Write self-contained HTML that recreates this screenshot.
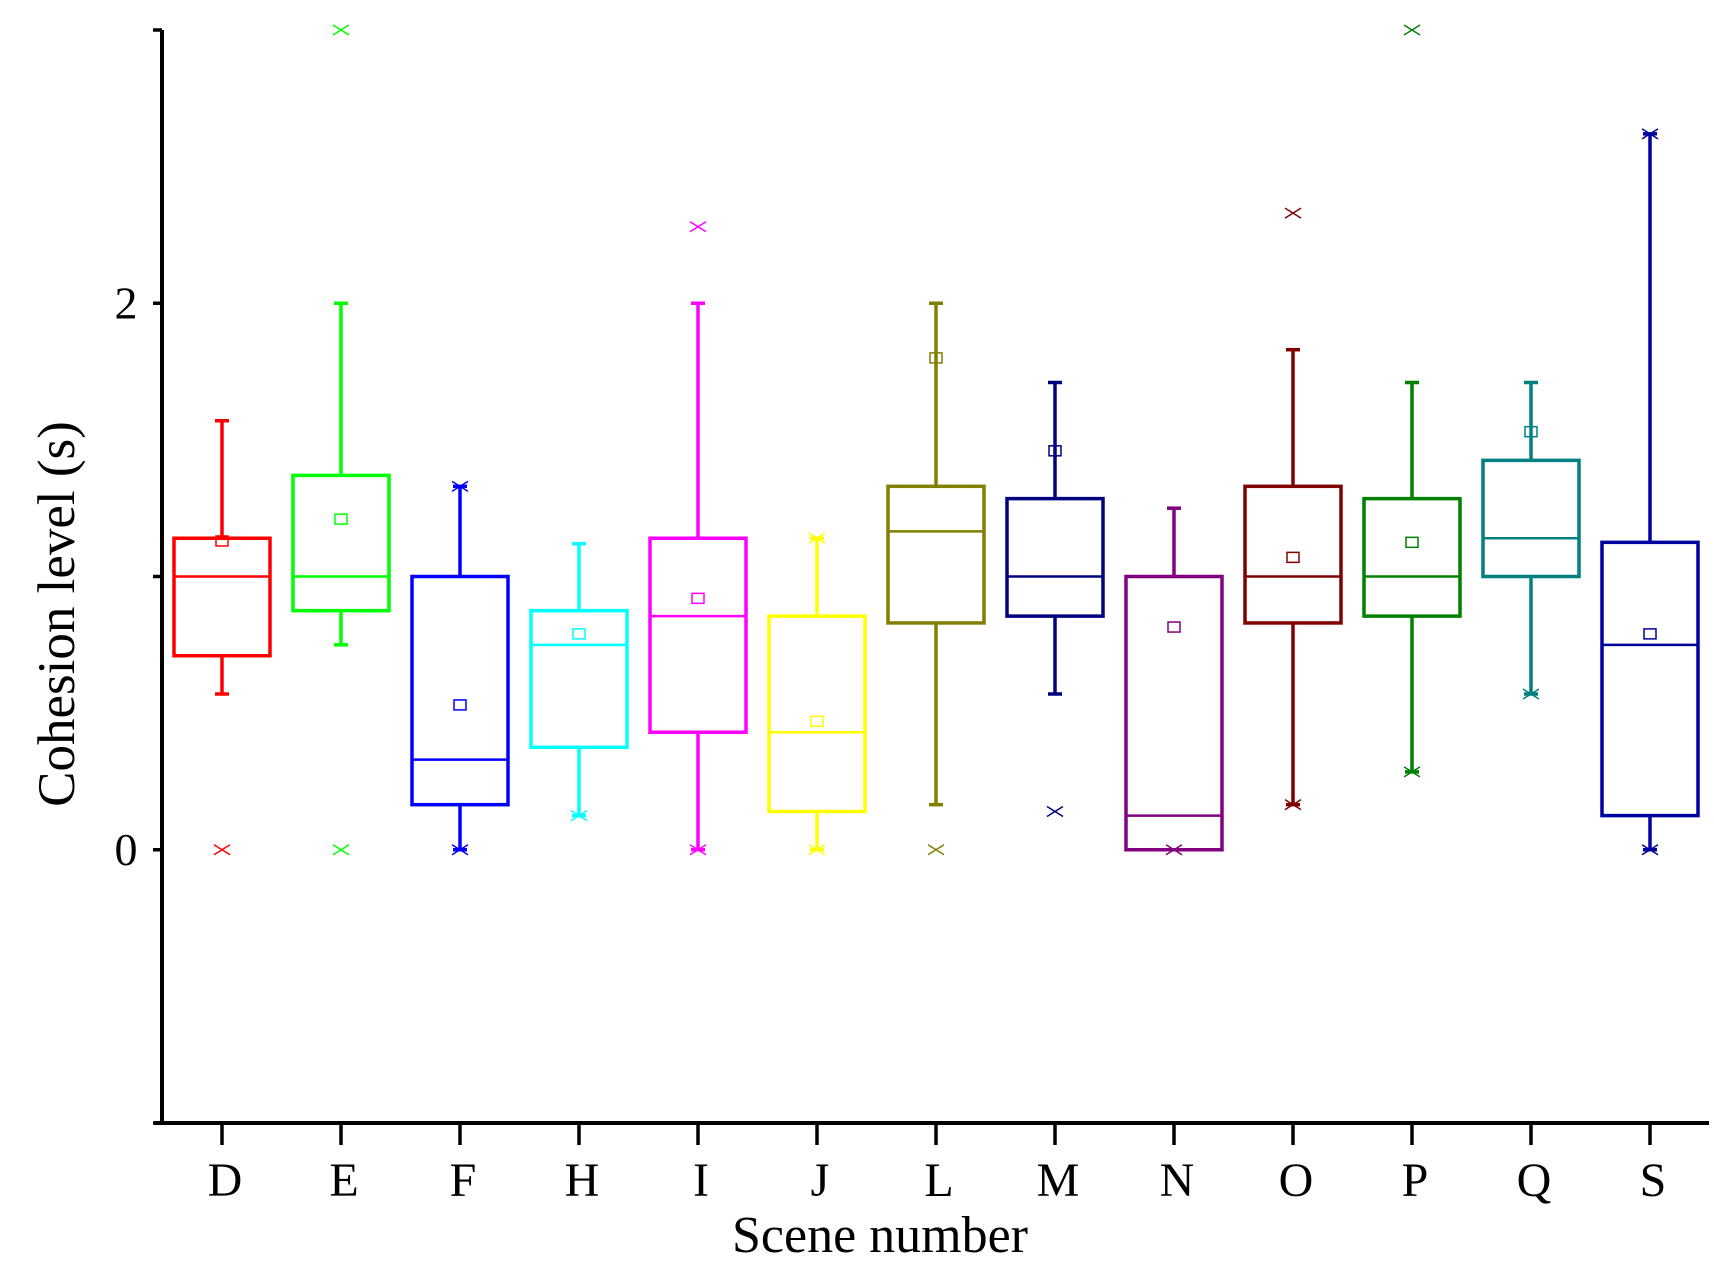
<!DOCTYPE html>
<html><head><meta charset="utf-8"><style>
html,body{margin:0;padding:0;background:#fff;}
svg{display:block;font-family:"Liberation Serif",serif;}
</style></head><body>
<svg id="chart" width="1714" height="1270" viewBox="0 0 1714 1270" xmlns="http://www.w3.org/2000/svg"></svg>
<script>
const categories = ["D","E","F","H","I","J","L","M","N","O","P","Q","S"];
const colors = ["#ff0000","#00ff00","#0000ff","#00ffff","#ff00ff","#ffff00","#808000","#000080","#800080","#800000","#008000","#008080","#0000a0"];
const whiskerHigh = [1.57,2.0,1.33,1.12,2.0,1.14,2.0,1.71,1.25,1.83,1.71,1.71,2.62];
const q3 = [1.14,1.37,1.0,0.875,1.14,0.855,1.33,1.285,1.0,1.33,1.285,1.425,1.125];
const medians = [1.0,1.0,0.33,0.75,0.855,0.43,1.165,1.0,0.125,1.0,1.0,1.14,0.75];
const q1 = [0.71,0.875,0.165,0.375,0.43,0.14,0.83,0.855,0.0,0.83,0.855,1.0,0.125];
const whiskerLow = [0.57,0.75,0.0,0.125,0.0,0.0,0.165,0.57,0.0,0.165,0.285,0.57,0.0];
const means = [1.13,1.21,0.53,0.79,0.92,0.47,1.8,1.46,0.815,1.07,1.125,1.53,0.79];
const outliers = [[0],[0,3],[1.33,0],[0.125],[2.28,0],[1.14,0],[0],[0.14],[0],[2.33,0.165],[3,0.285],[0.57],[2.62,0]];
const yTicks = [0,2];
const yMin = -1, yMax = 3;

const svg = document.getElementById('chart');
const NS = "http://www.w3.org/2000/svg";
const X0 = 162, X1 = 1709, Ytop = 30, Ybot = 1123;
const xFirst = 222, xStep = 119;
function xs(i){ return xFirst + i*xStep; }
function ys(v){ return Ybot - (v - yMin)/(yMax - yMin)*(Ybot - Ytop); }
function mk(tag, attrs, parent){
  const e = document.createElementNS(NS, tag);
  for (const k in attrs) e.setAttribute(k, attrs[k]);
  (parent||svg).appendChild(e);
  return e;
}
const hw = 48;
categories.forEach((c, i) => {
  const g = mk('g', {});
  
  
  const col = colors[i], x = xs(i);
  mk('line', {x1:x, x2:x, y1:ys(q3[i]), y2:ys(whiskerHigh[i]), stroke:col, 'stroke-width':3.5}, g);
  mk('line', {x1:x, x2:x, y1:ys(q1[i]), y2:ys(whiskerLow[i]), stroke:col, 'stroke-width':3.5}, g);
  mk('line', {x1:x-7, x2:x+7, y1:ys(whiskerHigh[i]), y2:ys(whiskerHigh[i]), stroke:col, 'stroke-width':3.5}, g);
  mk('line', {x1:x-7, x2:x+7, y1:ys(whiskerLow[i]), y2:ys(whiskerLow[i]), stroke:col, 'stroke-width':3.5}, g);
  mk('rect', {x:x-hw, y:ys(q3[i]), width:2*hw, height:ys(q1[i])-ys(q3[i]), fill:'#fff', stroke:col, 'stroke-width':3.5}, g);
  mk('line', {x1:x-hw, x2:x+hw, y1:ys(medians[i]), y2:ys(medians[i]), stroke:col, 'stroke-width':2.5}, g);
  mk('rect', {x:x-6, y:ys(means[i])-5, width:12, height:10, fill:'none', stroke:col, 'stroke-width':1.5}, g);
  outliers[i].forEach(v => {
    const y = ys(v);
    mk('path', {d:`M${x-8},${y-5}L${x+8},${y+5}M${x-8},${y+5}L${x+8},${y-5}`, stroke:col, 'stroke-width':1.5, fill:'none'}, g);
  });
});
const ax = mk('g', {});


mk('line', {x1:X0, x2:X0, y1:Ytop, y2:Ybot+2, stroke:'#000', 'stroke-width':4}, ax);
mk('line', {x1:X0-8, x2:X1, y1:Ybot, y2:Ybot, stroke:'#000', 'stroke-width':4}, ax);
[-1,0,1,2,3].forEach(v => mk('line', {x1:X0-9, x2:X0, y1:ys(v), y2:ys(v), stroke:'#000', 'stroke-width':3.5}, ax));
yTicks.forEach(v => {
  const t = mk('text', {x:126, y:ys(v)+15, 'font-size':46, 'text-anchor':'middle'}, ax);
  t.textContent = v;
  
  
});
categories.forEach((c, i) => {
  mk('line', {x1:xs(i), x2:xs(i), y1:Ybot, y2:Ybot+22, stroke:'#000', 'stroke-width':3.5}, ax);
  const t = mk('text', {x:xs(i)+3, y:1196, 'font-size':48, 'text-anchor':'middle'}, ax);
  t.textContent = c;
  
  
});
const xt = mk('text', {x:880, y:1252, 'font-size':52, 'text-anchor':'middle'});
xt.textContent = 'Scene number';


const yt = mk('text', {x:0, y:0, 'font-size':53, 'text-anchor':'middle', transform:'translate(74,614) rotate(-90)'});
yt.textContent = 'Cohesion level (s)';


</script>
</body></html>
